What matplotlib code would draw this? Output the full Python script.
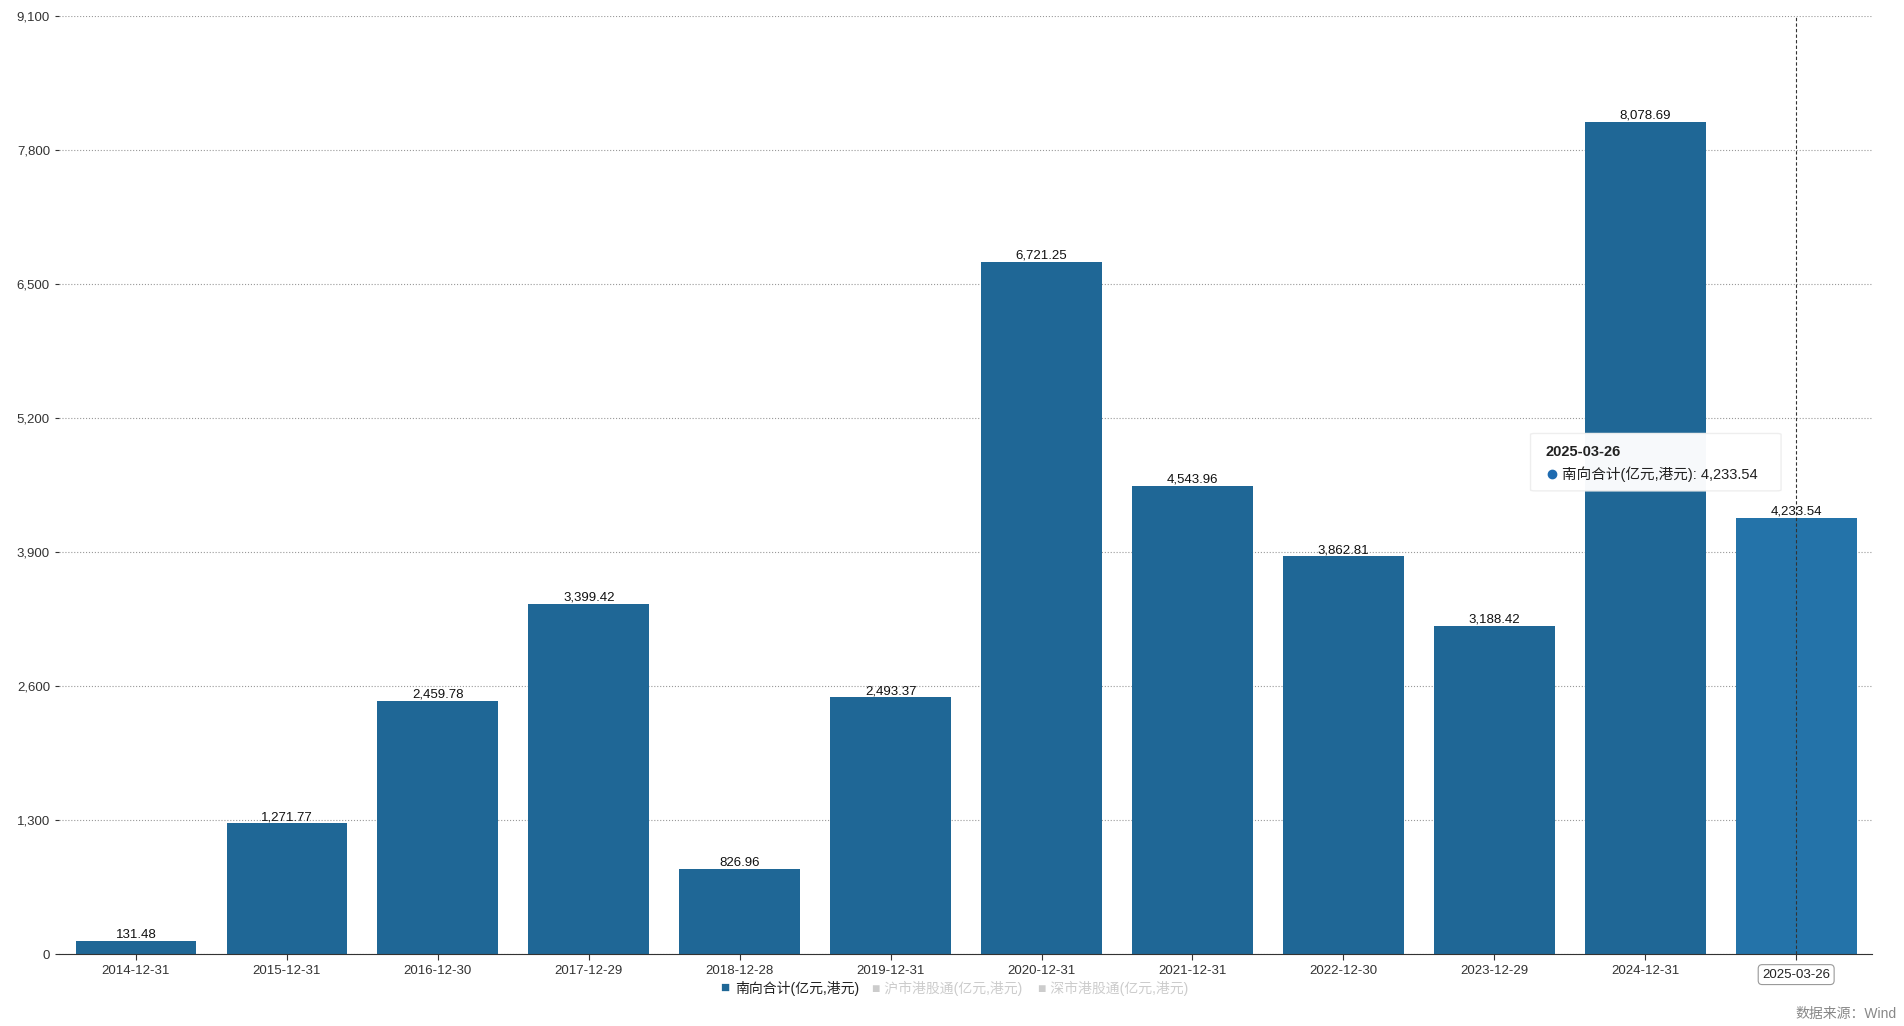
import matplotlib
matplotlib.use("Agg")
import matplotlib.pyplot as plt
from matplotlib.patches import FancyBboxPatch

plt.rcParams['font.family'] = ['Liberation Sans', 'Noto Sans CJK SC', 'DejaVu Sans']

dates = ["2014-12-31","2015-12-31","2016-12-30","2017-12-29","2018-12-28","2019-12-31",
         "2020-12-31","2021-12-31","2022-12-30","2023-12-29","2024-12-31","2025-03-26"]
values = [131.48,1271.77,2459.78,3399.42,826.96,2493.37,6721.25,4543.96,3862.81,3188.42,8078.69,4233.54]
yticks = [0,1300,2600,3900,5200,6500,7800,9100]

fig = plt.figure(figsize=(19.04,10.26), dpi=100)
ax = fig.add_axes([0.031,0.070,0.952,0.914])
x = list(range(len(dates)))
colors = ['#1f6796']*(len(dates)-1) + ['#2473a9']
ax.bar(x, values, width=0.8, color=colors, zorder=2)
for xi, v in zip(x, values):
    ax.text(xi, v, f"{v:,.2f}", ha='center', va='bottom', fontsize=9.5, color='#111')
ax.set_xlim(-0.51, len(dates)-0.5)
ax.set_ylim(0, 9100)
ax.set_yticks(yticks)
ax.set_yticklabels([f"{t:,}" for t in yticks], fontsize=9.5, color='#333')
ax.set_xticks(x)
ax.set_xticklabels(dates[:-1]+[""], fontsize=9.5, color='#333')
ax.tick_params(axis='y', length=3, color='#333')
ax.tick_params(axis='x', length=4, color='#333')
ax.grid(axis='y', linestyle=':', color='#999', linewidth=0.8, zorder=0)
for s in ['top','right','left']:
    ax.spines[s].set_visible(False)
ax.spines['bottom'].set_color('#333')
ax.axvline(x[-1], color='#333', linestyle=(0,(3,2)), linewidth=0.8, zorder=3)
ax.text(x[-1], -140, dates[-1], ha='center', va='top', fontsize=9.5, color='#222',
        bbox=dict(boxstyle='round,pad=0.3', fc='white', ec='#999', lw=0.8), clip_on=False)

# tooltip
tb = FancyBboxPatch((9.24, 4496), 1.66, 557, boxstyle='round,pad=0,rounding_size=0.03',
                    fc='white', ec='#eee', lw=1, zorder=4, alpha=0.97, mutation_aspect=300)
ax.add_patch(tb)
ax.text(9.34, 4875, dates[-1], ha='left', va='center', fontsize=10.5, fontweight='bold', color='#222', zorder=5)
ax.plot([9.38], [4662], 'o', color='#1f6bb0', ms=6, zorder=5)
ax.text(9.45, 4662, f"南向合计(亿元,港元): {values[-1]:,.2f}", ha='left', va='center',
        fontsize=10.5, color='#222', zorder=5)

# legend
fig.text(0.378, 0.037, "■", fontsize=11, color='#1f6796', va='center')
fig.text(0.386, 0.037, "南向合计(亿元,港元)", fontsize=10, color='#222', va='center')
fig.text(0.458, 0.037, "■ 沪市港股通(亿元,港元)", fontsize=10, color='#ccc', va='center')
fig.text(0.545, 0.037, "■ 深市港股通(亿元,港元)", fontsize=10, color='#ccc', va='center')
fig.text(0.996, 0.012, "数据来源：Wind", fontsize=10, color='#888', ha='right', va='center')
fig.savefig("out.png", dpi=100)
